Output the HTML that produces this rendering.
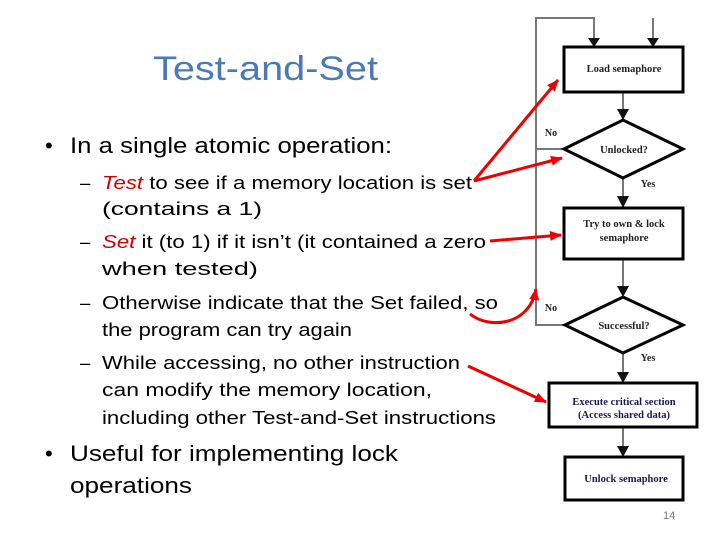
<!DOCTYPE html>
<html><head><meta charset="utf-8"><style>
html,body{margin:0;padding:0;background:#fff;}
svg{display:block;}
</style></head><body>
<svg width="720" height="540" viewBox="0 0 720 540" xmlns="http://www.w3.org/2000/svg">
<defs>
<marker id="ab" markerWidth="8" markerHeight="8" refX="7" refY="4" orient="auto" markerUnits="userSpaceOnUse"><path d="M0,0 L8,4 L0,8 z" fill="#111"/></marker>
<marker id="ar" markerWidth="12" markerHeight="10" refX="11" refY="5" orient="auto" markerUnits="userSpaceOnUse"><path d="M0,0 L12,5 L0,10 z" fill="#e00"/></marker>
</defs>
<g font-family="Liberation Sans, sans-serif">
<text x="153" y="80" font-size="34" fill="#4a7ab5" textLength="225" lengthAdjust="spacingAndGlyphs">Test-and-Set</text>
<text x="45" y="153" font-size="22" fill="#000">•</text>
<text x="70" y="153" font-size="22" fill="#000" textLength="322" lengthAdjust="spacingAndGlyphs">In a single atomic operation:</text>
<g font-size="18.5" fill="#000">
<text x="80" y="189">–</text>
<text x="102" y="189" textLength="370" lengthAdjust="spacingAndGlyphs"><tspan fill="#c00" font-style="italic">Test</tspan> to see if a memory location is set</text>
<text x="102" y="215" textLength="160" lengthAdjust="spacingAndGlyphs">(contains a 1)</text>
<text x="80" y="248">–</text>
<text x="102" y="248" textLength="384" lengthAdjust="spacingAndGlyphs"><tspan fill="#c00" font-style="italic">Set</tspan> it (to 1) if it isn’t (it contained a zero</text>
<text x="102" y="275" textLength="156" lengthAdjust="spacingAndGlyphs">when tested)</text>
<text x="80" y="309">–</text>
<text x="102" y="309" textLength="396" lengthAdjust="spacingAndGlyphs">Otherwise indicate that the Set failed, so</text>
<text x="102" y="336" textLength="250" lengthAdjust="spacingAndGlyphs">the program can try again</text>
<text x="80" y="369">–</text>
<text x="102" y="369" textLength="358" lengthAdjust="spacingAndGlyphs">While accessing, no other instruction</text>
<text x="102" y="396" textLength="330" lengthAdjust="spacingAndGlyphs">can modify the memory location,</text>
<text x="102" y="424" textLength="394" lengthAdjust="spacingAndGlyphs">including other Test-and-Set instructions</text>
</g>
<text x="45" y="461" font-size="22" fill="#000">•</text>
<text x="70" y="461" font-size="22" fill="#000" textLength="328" lengthAdjust="spacingAndGlyphs">Useful for implementing lock</text>
<text x="70" y="493" font-size="22" fill="#000" textLength="122" lengthAdjust="spacingAndGlyphs">operations</text>
<text x="663" y="519" font-size="11" fill="#777">14</text>
</g>
<!-- flowchart -->
<g stroke="#777" stroke-width="2" fill="none">
<polyline points="564,149 536,149 536,18 594,18 594,40"/>
<polyline points="565,325 536,325 536,149"/>
<line x1="653" y1="18" x2="653" y2="40"/>
<line x1="623" y1="92" x2="623" y2="113"/>
<line x1="623" y1="178" x2="623" y2="201"/>
<line x1="623" y1="259" x2="623" y2="290"/>
<line x1="623" y1="353" x2="623" y2="376"/>
<line x1="623" y1="427" x2="623" y2="450"/>
</g>
<g fill="#111">
<path d="M588,38 L600,38 L594,47 z"/>
<path d="M647,38 L659,38 L653,47 z"/>
<path d="M617,109 L629,109 L623,120 z"/>
<path d="M617,196 L629,196 L623,208 z"/>
<path d="M617,286 L629,286 L623,297 z"/>
<path d="M617,372 L629,372 L623,383 z"/>
<path d="M617,446 L629,446 L623,457 z"/>
</g>
<g stroke="#000" stroke-width="3" fill="#fff">
<rect x="564" y="47" width="119" height="45"/>
<polygon points="564,149 623,120 683,149 623,178"/>
<rect x="564" y="208" width="119" height="51"/>
<polygon points="565,325 623,297 683,325 623,353"/>
<rect x="549" y="383" width="148" height="44"/>
<rect x="565" y="457" width="118" height="43"/>
</g>
<g font-family="Liberation Serif, serif" font-weight="bold" font-size="10.5" fill="#222" text-anchor="middle">
<text x="624" y="72">Load semaphore</text>
<text x="624" y="153">Unlocked?</text>
<text x="624" y="227">Try to own &amp; lock</text>
<text x="624" y="241">semaphore</text>
<text x="624" y="329">Successful?</text>
<text x="624" y="405" fill="#1a1a50">Execute critical section</text>
<text x="624" y="418" fill="#1a1a50">(Access shared data)</text>
<text x="626" y="482" fill="#1a1a50">Unlock semaphore</text>
<text x="551" y="136" font-size="10">No</text>
<text x="648" y="187" font-size="10">Yes</text>
<text x="551" y="311" font-size="10">No</text>
<text x="648" y="361" font-size="10">Yes</text>
</g>
<!-- red arrows -->
<g stroke="#e00" stroke-width="3" fill="none">
<line x1="474" y1="181" x2="558" y2="80" marker-end="url(#ar)"/>
<line x1="474" y1="181" x2="562" y2="158" marker-end="url(#ar)"/>
<line x1="490" y1="241" x2="561" y2="235" marker-end="url(#ar)"/>
<path d="M470,314 C490,330 530,325 536,289" marker-end="url(#ar)"/>
<line x1="468" y1="366" x2="546" y2="402" marker-end="url(#ar)"/>
</g>
</svg>
</body></html>
